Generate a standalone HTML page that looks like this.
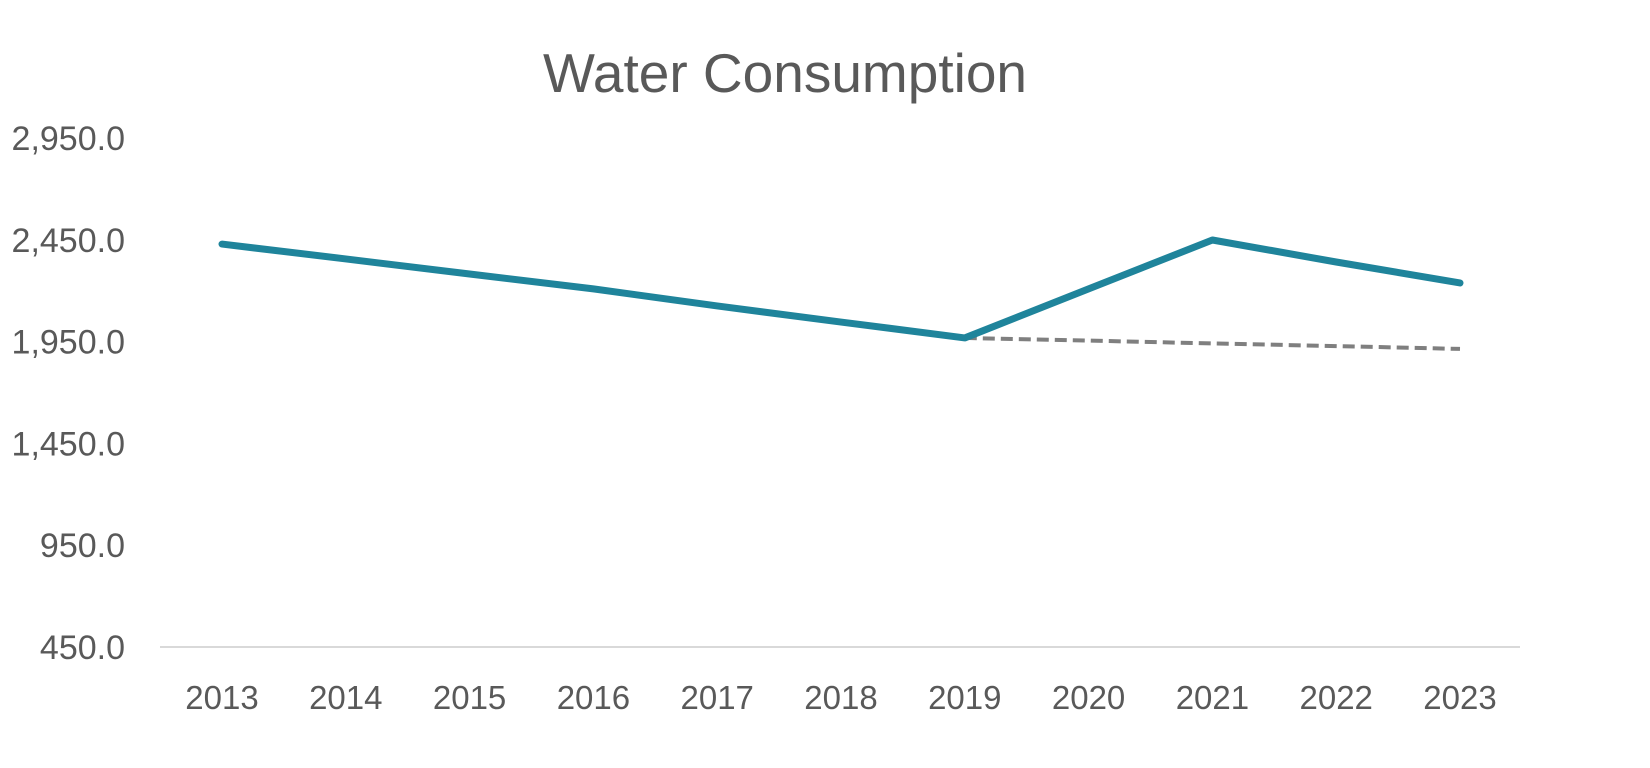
<!DOCTYPE html>
<html><head><meta charset="utf-8"><style>
html,body{margin:0;padding:0;background:#fff;}
svg text{font-family:"Liberation Sans",Calibri,sans-serif;fill:#595959;}
</style></head><body>
<svg id="chart" width="1650" height="763" viewBox="0 0 1650 763">
<text x="785" y="92" font-size="55" text-anchor="middle">Water Consumption</text>
<g id="yaxis"></g>
<g id="xaxis"></g>
<g id="series"></g>
</svg>
<script>
const years = ["2013","2014","2015","2016","2017","2018","2019","2020","2021","2022","2023"];
const actual = [2429,2356,2282,2209,2125,2046,1968,2209,2449,2341,2238];
const trendYears = ["2019","2020","2021","2022","2023"];
const trend = [1968,1955,1941,1928,1914];
const yTicks = [450,950,1450,1950,2450,2950];

const NS="http://www.w3.org/2000/svg";
const yMin=450,yMax=2950,yTop=138,yBot=647;
const xFirst=222,xStep=123.8;
function ys(v){return yBot-(v-yMin)/(yMax-yMin)*(yBot-yTop);}
function xs(y){return xFirst+years.indexOf(y)*xStep;}
function mk(t,a,p){const e=document.createElementNS(NS,t);for(const k in a)e.setAttribute(k,a[k]);p.appendChild(e);return e;}

const ya=document.getElementById('yaxis');
yTicks.forEach(v=>{
  const t=mk('text',{x:125,y:ys(v)+12,'font-size':34,'text-anchor':'end'},ya);
  t.textContent=v.toLocaleString('en-US',{minimumFractionDigits:1,maximumFractionDigits:1});
  
  
});
const base=mk('line',{x1:160,x2:1520,y1:ys(450),y2:ys(450),stroke:'#d9d9d9','stroke-width':2},ya);



const xa=document.getElementById('xaxis');
years.forEach(y=>{
  const t=mk('text',{x:xs(y),y:709,'font-size':33,'text-anchor':'middle'},xa);
  t.textContent=y;
  
  
});

const s=document.getElementById('series');
const tp=mk('polyline',{points:trendYears.map((y,i)=>xs(y)+','+ys(trend[i])).join(' '),fill:'none',stroke:'#7f7f7f','stroke-width':4,'stroke-dasharray':'12 6'},s);


const ap=mk('polyline',{points:years.map((y,i)=>xs(y)+','+ys(actual[i])).join(' '),fill:'none',stroke:'#1f849b','stroke-width':7,'stroke-linejoin':'round','stroke-linecap':'round'},s);


</script>
</body></html>
